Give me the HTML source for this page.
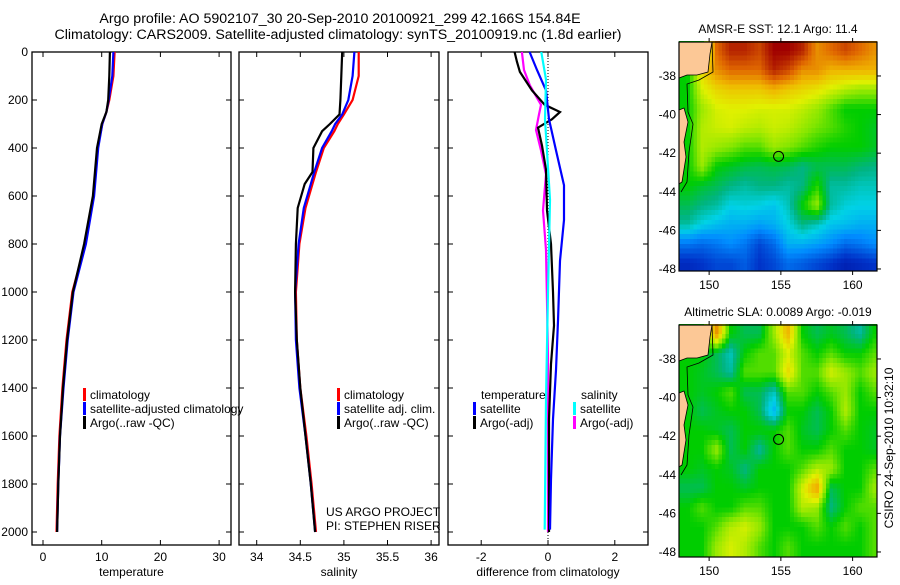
<!DOCTYPE html>
<html><head><meta charset="utf-8"><style>
body{margin:0;background:#fff;width:900px;height:580px;overflow:hidden;font-family:"Liberation Sans",sans-serif}
svg text{font-family:"Liberation Sans",sans-serif;font-size:12px;fill:#000}
svg text.big{font-size:14.2px}
</style></head><body>
<svg id="fig" width="900" height="580" xmlns="http://www.w3.org/2000/svg">
<text class="big" x="340" y="23" text-anchor="middle">Argo profile: AO 5902107_30 20-Sep-2010 20100921_299 42.166S 154.84E</text>
<text class="big" x="338" y="39" text-anchor="middle">Climatology: CARS2009. Satellite-adjusted climatology: synTS_20100919.nc (1.8d earlier)</text>
<g id="maps"></g>
<g id="plots"></g>
</svg>
<script>
// ---- profile data ----
const tDepth=[0,100,200,250,300,400,600,800,1000,1200,1400,1600,1800,2000];
const tArgo=[11.4,11.3,11.1,10.8,10.0,9.2,8.5,7.0,5.1,4.1,3.4,2.9,2.6,2.4];
const tClim=[12.2,12.0,11.3,10.8,10.1,9.3,8.6,7.2,5.0,4.0,3.3,2.8,2.5,2.3];
const tSat=[12.0,11.8,11.2,10.8,10.1,9.4,8.7,7.3,5.2,4.2,3.5,2.9,2.6,2.4];
const sDepth=[0,100,200,260,300,330,400,500,550,650,800,1000,1200,1400,1600,1800,2000];
const sArgo=[34.98,34.97,34.96,34.95,34.84,34.75,34.65,34.64,34.55,34.47,34.45,34.44,34.46,34.5,34.56,34.62,34.67];
const sClim=[35.17,35.17,35.1,35.0,34.93,34.89,34.77,34.68,34.64,34.56,34.49,34.45,34.46,34.5,34.57,34.63,34.68];
const sSat=[35.12,35.1,35.05,34.98,34.9,34.86,34.75,34.66,34.62,34.54,34.48,34.44,34.45,34.49,34.56,34.62,34.67];
const dTSatDepth=[0,75,160,280,410,555,700,870,1120,1325,1530,1780,1990];
const dTSat=[-0.55,-0.33,-0.06,0.03,0.24,0.48,0.48,0.36,0.3,0.24,0.15,0.09,0.06];
const dTArgoDepth=[0,40,83,160,220,250,280,315,390,490,660,800,1000,1140,1300,1530,2000];
const dTArgo=[-1.0,-0.93,-0.84,-0.48,-0.1,0.36,0.12,-0.3,-0.18,-0.06,-0.03,0.09,0.15,0.18,0.09,0.03,0.03];
const dSArgoDepth=[0,75,140,220,260,325,410,510,660,825,1040,1280,2000];
const dSArgo=[-0.78,-0.72,-0.54,-0.21,-0.27,-0.36,-0.21,-0.06,-0.15,-0.06,-0.03,0,0];
const dSSatDepth=[0,115,280,615,1000,1450,1990];
const dSSat=[-0.2,-0.06,-0.09,0.06,0,-0.06,-0.1];
// ---- map data (colour index 0..1), rows lat -36.7..-47.7, cols lon 148.5..161.5 ----
const sst=[
[0.5,0.5,0.85,0.95,0.95,0.9,1.0,1.0,0.95,0.8,0.85,0.9,0.85,0.8],
[0.5,0.7,0.8,0.85,0.85,0.85,0.95,0.9,0.8,0.8,0.75,0.75,0.75,0.75],
[0.5,0.65,0.7,0.72,0.72,0.72,0.75,0.72,0.7,0.68,0.65,0.62,0.6,0.6],
[0.5,0.6,0.65,0.66,0.66,0.65,0.65,0.65,0.63,0.6,0.55,0.5,0.5,0.5],
[0.5,0.62,0.64,0.65,0.63,0.62,0.64,0.63,0.6,0.57,0.55,0.52,0.5,0.48],
[0.5,0.62,0.6,0.58,0.55,0.55,0.6,0.58,0.55,0.52,0.5,0.5,0.5,0.48],
[0.5,0.6,0.5,0.48,0.46,0.45,0.46,0.45,0.42,0.45,0.45,0.45,0.43,0.42],
[0.5,0.47,0.45,0.42,0.4,0.42,0.42,0.4,0.42,0.52,0.4,0.4,0.38,0.38],
[0.45,0.42,0.4,0.35,0.36,0.35,0.33,0.38,0.5,0.6,0.4,0.36,0.35,0.35],
[0.4,0.35,0.32,0.3,0.3,0.28,0.3,0.35,0.42,0.38,0.33,0.32,0.3,0.3],
[0.22,0.2,0.22,0.25,0.22,0.15,0.2,0.3,0.3,0.28,0.25,0.2,0.22,0.25],
[0.1,0.12,0.15,0.15,0.18,0.12,0.15,0.2,0.18,0.15,0.12,0.08,0.1,0.12]];
const sla=[
[0.5,0.5,0.8,0.5,0.45,0.45,0.6,0.75,0.5,0.45,0.48,0.45,0.4,0.5],
[0.5,0.5,0.45,0.38,0.5,0.55,0.55,0.65,0.55,0.5,0.55,0.5,0.5,0.55],
[0.5,0.48,0.45,0.4,0.55,0.55,0.55,0.7,0.55,0.55,0.65,0.6,0.55,0.6],
[0.5,0.48,0.5,0.55,0.45,0.45,0.38,0.55,0.55,0.5,0.55,0.6,0.5,0.55],
[0.5,0.45,0.48,0.5,0.5,0.45,0.3,0.5,0.5,0.45,0.5,0.62,0.5,0.5],
[0.5,0.5,0.48,0.45,0.5,0.5,0.5,0.55,0.48,0.45,0.5,0.55,0.5,0.48],
[0.5,0.5,0.6,0.45,0.5,0.4,0.5,0.55,0.5,0.5,0.55,0.5,0.5,0.48],
[0.5,0.48,0.5,0.48,0.42,0.5,0.5,0.5,0.55,0.62,0.6,0.5,0.5,0.55],
[0.45,0.45,0.5,0.5,0.48,0.5,0.5,0.5,0.65,0.78,0.45,0.5,0.5,0.6],
[0.5,0.55,0.5,0.5,0.55,0.55,0.5,0.5,0.62,0.6,0.42,0.5,0.55,0.55],
[0.5,0.5,0.55,0.62,0.65,0.6,0.5,0.5,0.5,0.55,0.5,0.55,0.5,0.55],
[0.5,0.5,0.6,0.65,0.62,0.55,0.5,0.55,0.5,0.5,0.5,0.5,0.5,0.55]];
const lonTicks=[150,155,160];
const latTicks=[-38,-40,-42,-44,-46,-48];
const floatLon=154.84, floatLat=-42.166;

const NS='http://www.w3.org/2000/svg';
const P=document.getElementById('plots'), M=document.getElementById('maps');
function mk(tag,attrs,parent,txt){const e=document.createElementNS(NS,tag);for(const k in attrs)e.setAttribute(k,attrs[k]);if(txt!==undefined)e.textContent=txt;(parent||P).appendChild(e);return e;}
const yTop=52,yBot=545;
const yD=d=>52+d*0.24;
const panels=[
 {x0:32,x1:231,xs:v=>43+v*5.87,ticks:[0,10,20,30],lab:['0','10','20','30'],title:'temperature',name:'temperature-panel'},
 {x0:239,x1:439,xs:v=>256.7+(v-34)*87.2,ticks:[34,34.5,35,35.5,36],lab:['34','34.5','35','35.5','36'],title:'salinity',name:'salinity-panel'},
 {x0:448,x1:648,xs:v=>548+v*33.4,ticks:[-2,0,2],lab:['-2','0','2'],title:'difference from climatology',name:'difference-panel'}];
panels.forEach((p,i)=>{
 const g=mk('g',{});
 
 
 mk('rect',{x:p.x0,y:yTop,width:p.x1-p.x0,height:yBot-yTop,fill:'none',stroke:'#000','stroke-width':1.3},g);
 p.ticks.forEach((t,j)=>{const x=p.xs(t);
  mk('line',{x1:x,x2:x,y1:yTop,y2:yTop+5,stroke:'#000'},g);
  mk('line',{x1:x,x2:x,y1:yBot,y2:yBot-5,stroke:'#000'},g);
  const tl=mk('text',{x:x,y:561,'text-anchor':'middle'},g,p.lab[j]);
  
  
 });
 for(let d=0;d<=2000;d+=200){const y=yD(d);
  mk('line',{x1:p.x0,x2:p.x0+5,y1:y,y2:y,stroke:'#000'},g);
  mk('line',{x1:p.x1,x2:p.x1-5,y1:y,y2:y,stroke:'#000'},g);
  if(i===0){const tl=mk('text',{x:28,y:y+4,'text-anchor':'end'},g,String(d));
   
   }
 }
 const at=mk('text',{x:(p.x0+p.x1)/2,y:576,'text-anchor':'middle'},g,p.title);
 
 
});
function line(depths,vals,xs,color,name){
 const pts=depths.map((d,i)=>xs(vals[i]).toFixed(1)+','+yD(d).toFixed(1)).join(' ');
 const e=mk('polyline',{points:pts,fill:'none',stroke:color,'stroke-width':2.2});
 
 
}
line(tDepth,tClim,panels[0].xs,'#f00','temp-climatology-line');
line(tDepth,tSat,panels[0].xs,'#00f','temp-satellite-line');
line(tDepth,tArgo,panels[0].xs,'#000','temp-argo-line');
line(sDepth,sClim,panels[1].xs,'#f00','sal-climatology-line');
line(sDepth,sSat,panels[1].xs,'#00f','sal-satellite-line');
line(sDepth,sArgo,panels[1].xs,'#000','sal-argo-line');
mk('line',{x1:548,x2:548,y1:yTop,y2:540,stroke:'#000','stroke-dasharray':'1,2'});
line(dSArgoDepth,dSArgo,panels[2].xs,'#f0f','diff-sal-argo-line');
line(dTArgoDepth,dTArgo,panels[2].xs,'#000','diff-temp-argo-line');
line(dTSatDepth,dTSat,panels[2].xs,'#00f','diff-temp-satellite-line');
line(dSSatDepth,dSSat,panels[2].xs,'#0ff','diff-sal-satellite-line');
function leg(x,y,color,txt,name){
 const g=mk('g',{});
 
 
 if(color)mk('rect',{x:x,y:y-10,width:3,height:13,fill:color},g);
 mk('text',{x:x+7,y:y+1},g,txt);
}
leg(83,398,'#f00','climatology','legend-climatology');
leg(83,412,'#00f','satellite-adjusted climatology','legend-satellite');
leg(83,426,'#000','Argo(..raw -QC)','legend-argo');
leg(337,398,'#f00','climatology','legend-sal-climatology');
leg(337,412,'#00f','satellite adj. clim.','legend-sal-satellite');
leg(337,426,'#000','Argo(..raw -QC)','legend-sal-argo');
leg(474,398,null,'temperature','legend-temp-header');
leg(473,412,'#00f','satellite','legend-diff-temp-sat');
leg(473,426,'#000','Argo(-adj)','legend-diff-temp-argo');
leg(574,398,null,'salinity','legend-sal-header');
leg(573,412,'#0ff','satellite','legend-diff-sal-sat');
leg(573,426,'#f0f','Argo(-adj)','legend-diff-sal-argo');
const c1=mk('text',{x:326,y:516},P,'US ARGO PROJECT');


const c2=mk('text',{x:326,y:530},P,'PI: STEPHEN RISER');



// ---- maps ----
const cmapStops=[[0,[0,0,140]],[0.12,[0,50,200]],[0.25,[0,140,255]],[0.35,[0,210,230]],[0.42,[0,180,130]],[0.5,[0,205,0]],[0.58,[130,230,0]],[0.66,[225,240,0]],[0.75,[240,180,0]],[0.85,[225,105,0]],[1.0,[160,0,0]]];
function cmap(v){v=Math.max(0,Math.min(1,v));
 for(let i=1;i<cmapStops.length;i++){const [a,ca]=cmapStops[i-1],[b,cb]=cmapStops[i];
  if(v<=b){const f=(v-a)/(b-a);return 'rgb('+ca.map((x,k)=>Math.round(x+(cb[k]-x)*f)).join(',')+')';}}
 return 'rgb(160,0,0)';}
function sample(data,r,c){
 r=Math.max(0,Math.min(11,r));c=Math.max(0,Math.min(13,c));
 const r0=Math.floor(r),c0=Math.floor(c),r1=Math.min(11,r0+1),c1=Math.min(13,c0+1),fr=r-r0,fc=c-c0;
 return data[r0][c0]*(1-fr)*(1-fc)+data[r0][c1]*(1-fr)*fc+data[r1][c0]*fr*(1-fc)+data[r1][c1]*fr*fc;
}
function drawMap(data,mTop,mBot,title,name){
 const x0=679,x1=877,lon0=147.9,lon1=161.7,lat0=-36.24;
 const sx=(x1-x0)/(lon1-lon0), sy=19.3;
 const lx=l=>x0+(l-lon0)*sx, ly=l=>mTop+(lat0-l)*sy;
 const g=mk('g',{},M);
 
 
 const cells=mk('g',{'shape-rendering':'crispEdges'},g);
 
 
 const sub=4, dl=1/sub;
 for(let lat=-36.2;lat>-48.3;lat-=dl){
  for(let lon=147.9;lon<161.7;lon+=dl){
   const r=(-36.7-(lat-dl/2)), c=(lon+dl/2)-148.5;
   const v=sample(data,r,c);
   const y=ly(lat),x=lx(lon);
   mk('rect',{x:x.toFixed(1),y:y.toFixed(1),width:(dl*sx+0.6).toFixed(1),height:(Math.min(dl*sy+0.6,mBot-y)).toFixed(1),fill:cmap(v)},cells);
  }
 }
 const land=mk('path',{d:`M${x0},${mTop} L${x0+33},${mTop} L${x0+31},${mTop+12} L${x0+29},${mTop+30} L${x0+18},${mTop+33} L${x0+8},${mTop+33} L${x0},${mTop+36} Z M${x0},${mTop+68} L${x0+5},${mTop+66} L${x0+9},${mTop+80} L${x0+5},${mTop+100} L${x0+7},${mTop+115} L${x0+3},${mTop+140} L${x0},${mTop+142} Z`,fill:'#fcc896',stroke:'#000','stroke-width':0.8},g);
 
 
 mk('path',{d:`M${x0+33},${mTop} L${x0+34},${mTop+30} L${x0+20},${mTop+38} L${x0+8},${mTop+42} L${x0+9},${mTop+70} L${x0+14},${mTop+82} L${x0+10},${mTop+110} L${x0+8},${mTop+140} L${x0+2},${mTop+150}`,fill:'none',stroke:'#000','stroke-width':0.8},g);
 mk('rect',{x:x1,y:mTop-2,width:20,height:mBot-mTop+6,fill:'#fff'},g);
 mk('rect',{x:x0,y:mBot,width:x1-x0+4,height:4,fill:'#fff'},g);
 mk('rect',{x:x0,y:mTop,width:x1-x0,height:mBot-mTop,fill:'none',stroke:'#000','stroke-width':1.2},g);
 const fc=mk('circle',{cx:lx(floatLon),cy:ly(floatLat),r:5,fill:'none',stroke:'#000','stroke-width':1},g);
 
 
 lonTicks.forEach(l=>{const x=lx(l);
  mk('line',{x1:x,x2:x,y1:mTop,y2:mTop-4,stroke:'#000'},g);
  mk('line',{x1:x,x2:x,y1:mBot,y2:mBot+4,stroke:'#000'},g);
  const t=mk('text',{x:x,y:mBot+18,'text-anchor':'middle'},g,String(l));
  
  });
 latTicks.forEach(l=>{const y=ly(l);
  mk('line',{x1:x1,x2:x1+4,y1:y,y2:y,stroke:'#000'},g);
  const t=mk('text',{x:676,y:y+4,'text-anchor':'end'},g,String(l));
  
  });
 const tt=mk('text',{x:778,y:mTop-9,'text-anchor':'middle'},g,title);
 
 
}
drawMap(sst,42,271,'AMSR-E SST: 12.1 Argo: 11.4','sst-map');
drawMap(sla,325,557,'Altimetric SLA: 0.0089 Argo: -0.019','sla-map');
const cs=mk('text',{x:0,y:0,'text-anchor':'middle',transform:'translate(893,448) rotate(-90)'},M,'CSIRO 24-Sep-2010 10:32:10');


</script>
</body></html>
